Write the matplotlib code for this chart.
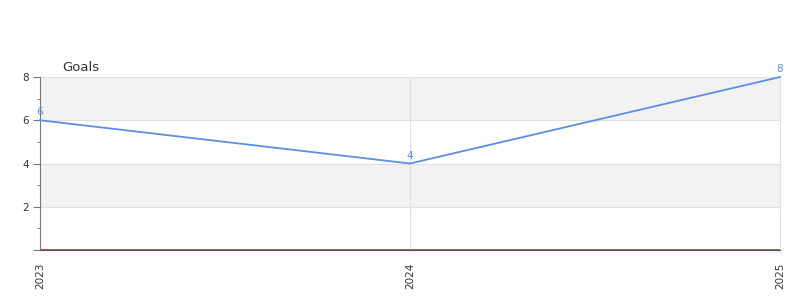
import matplotlib.pyplot as plt
import numpy as np

years = ['2023', '2024', '2025']
goals = [6, 4, 8]

line_color = '#5b8ee6'
text_color = '#333333'

fig = plt.figure(figsize=(8, 3), dpi=100)
ax = fig.add_axes([0.05, 0.1667, 0.925, 0.5766])

x = np.arange(len(years))
ax.set_xlim(0, len(years) - 1)
ax.set_ylim(0, 8)

# alternating bands
ax.axhspan(6, 8, color='#f2f2f2', zorder=0, lw=0)
ax.axhspan(2, 4, color='#f2f2f2', zorder=0, lw=0)
for yv in [2, 4, 6, 8]:
    ax.axhline(yv, color='#e0e0e0', lw=0.8, zorder=1)
for xv in x[1:]:
    ax.axvline(xv, color='#e0e0e0', lw=0.8, zorder=1, clip_on=False)

ax.plot(x, goals, color=line_color, lw=1.3, zorder=3, clip_on=False)
for xi, g in zip(x, goals):
    ax.annotate(str(g), (xi, g), xytext=(0, 2), textcoords='offset points',
                ha='center', va='bottom', fontsize=7.5, color=line_color)

ax.axhline(0, color='#d62728', lw=1.2, zorder=2)

ax.set_xticks(x)
ax.set_xticklabels(years, rotation=90, fontsize=7.5, color=text_color)
ax.set_yticks([0, 2, 4, 6, 8])
ax.set_yticklabels(['', '2', '4', '6', '8'], fontsize=7.5, color=text_color)
ax.set_yticks([1, 3, 5, 7], minor=True)
ax.tick_params(axis='y', which='major', length=5, color='#777777', pad=3)
ax.tick_params(axis='y', which='minor', length=2.5, color='#777777')
ax.tick_params(axis='x', length=0, pad=9)

for s in ['top', 'right']:
    ax.spines[s].set_visible(False)
ax.spines['left'].set_color('#777777')
ax.spines['bottom'].set_color('#555555')
ax.spines['left'].set_linewidth(0.8)
ax.spines['bottom'].set_linewidth(0.8)

ax.text(0.03, 1.02, 'Goals', transform=ax.transAxes, fontsize=9.5,
        color=text_color, ha='left', va='bottom')

fig.savefig('out.png', dpi=100)
